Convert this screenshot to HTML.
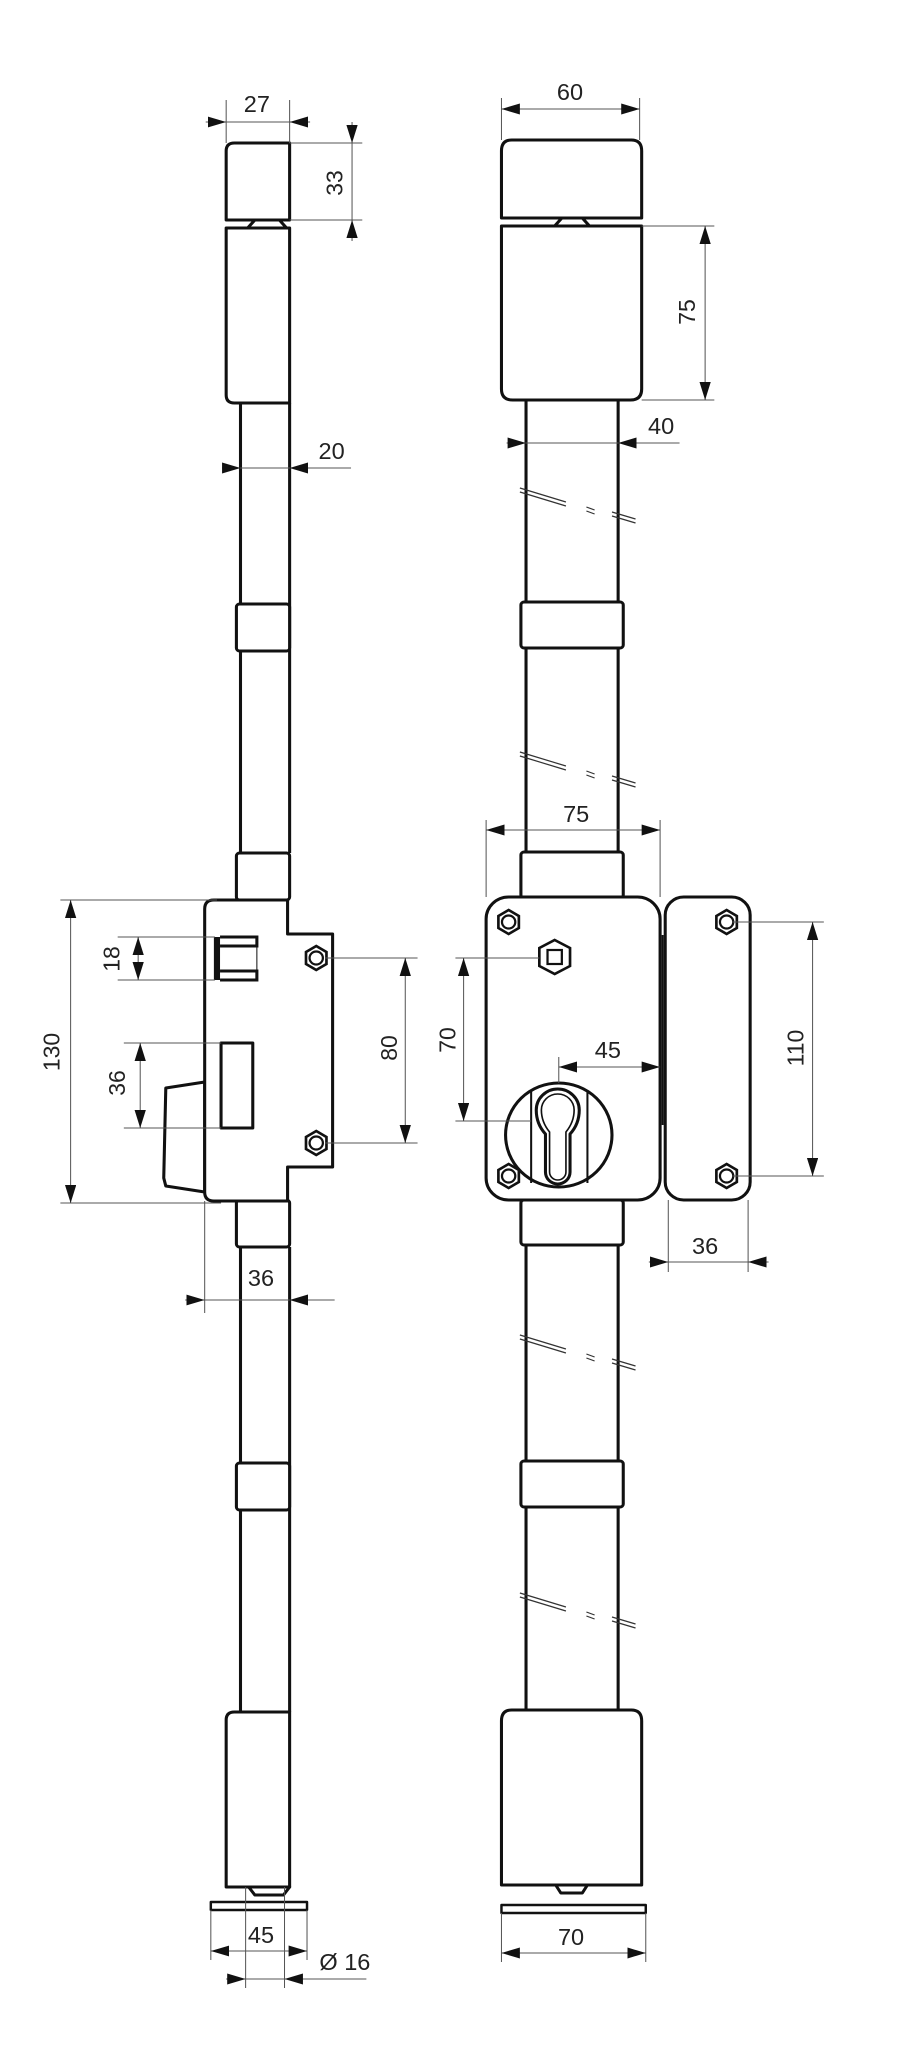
<!DOCTYPE html>
<html><head><meta charset="utf-8"><style>
html,body{margin:0;padding:0;background:#fff}
svg{display:block}
text{font-family:"Liberation Sans",sans-serif;font-size:23px;fill:#222}
.o{fill:#fff;stroke:#111;stroke-width:3;stroke-linejoin:round}
.l{fill:none;stroke:#111;stroke-width:3}
.d{fill:none;stroke:#555;stroke-width:1}
.b{fill:none;stroke:#333;stroke-width:1.2}
</style></head><body>
<svg width="917" height="2045" viewBox="0 0 917 2045" xmlns="http://www.w3.org/2000/svg">
<defs>
<marker id="a" markerUnits="userSpaceOnUse" markerWidth="20" markerHeight="12" refX="18" refY="5.5" orient="auto-start-reverse"><path d="M0,0 L18,5.5 L0,11 Z" fill="#111"/></marker>
<g id="scr"><polygon points="0,-12 10,-6 10,6 0,12 -10,6 -10,-6" fill="#fff" stroke="#111" stroke-width="2.6"/><circle r="6.5" fill="none" stroke="#111" stroke-width="2.2"/></g>
<g id="brk" class="b"><line x1="508" y1="0" x2="553" y2="14"/><line x1="508" y1="4" x2="553" y2="18"/><line x1="573" y1="19" x2="581" y2="22"/><line x1="573" y1="23" x2="581" y2="26"/><line x1="598" y1="24" x2="621" y2="31"/><line x1="598" y1="28" x2="621" y2="35"/></g>
</defs>
<g transform="scale(1.0234,1)">
<!-- LEFT VIEW -->
<line class="l" x1="235" y1="403" x2="235" y2="853"/><line class="l" x1="283" y1="403" x2="283" y2="853"/>
<line class="l" x1="235" y1="1247" x2="235" y2="1712"/><line class="l" x1="283" y1="1247" x2="283" y2="1712"/>
<path class="o" d="M229,143 H283 V220 H221 V151 Q221,143 229,143 Z"/>
<polygon class="o" points="249,220 273,220 280,228 242,228"/>
<path class="o" d="M221,228 H283 V403 H229 Q221,403 221,395 Z"/>
<rect class="o" x="231" y="604" width="52" height="47" rx="3"/>
<rect class="o" x="231" y="853" width="52" height="47" rx="3"/>
<rect class="o" x="231" y="1200" width="52" height="47" rx="3"/>
<rect class="o" x="231" y="1463" width="52" height="47" rx="3"/>
<polygon class="o" points="200,1082 162,1088 160,1178 162,1186 200,1192"/>
<path class="o" d="M209,900 H281 V934 H325 V1167 H281 V1201 H209 Q200,1201 200,1192 V909 Q200,900 209,900 Z"/>
<rect x="209" y="937" width="6" height="43" fill="#111"/>
<polyline class="l" points="215,937 251,937 251,946 215,946"/>
<polyline class="l" points="215,971 251,971 251,980 215,980"/>
<line class="l" x1="251" y1="946" x2="251" y2="971" style="stroke-width:1"/>
<rect class="o" x="216" y="1043" width="31" height="85"/>
<use href="#scr" x="309" y="958"/><use href="#scr" x="309" y="1143"/>
<path class="o" d="M229,1712 H283 V1887 H221 V1720 Q221,1712 229,1712 Z"/>
<polygon class="o" points="243,1887 283,1887 277,1895 249,1895"/>
<rect class="o" x="206" y="1902" width="94" height="8" style="stroke-width:2.4"/>

<!-- RIGHT VIEW -->
<line class="l" x1="514" y1="400" x2="514" y2="852"/><line class="l" x1="604" y1="400" x2="604" y2="852"/>
<line class="l" x1="514" y1="1245" x2="514" y2="1710"/><line class="l" x1="604" y1="1245" x2="604" y2="1710"/>
<path class="o" d="M500,140 H617 Q627,140 627,151 V218 H490 V151 Q490,140 500,140 Z"/>
<polygon class="o" points="549,218 569,218 576,226 542,226"/>
<path class="o" d="M490,226 H627 V389 Q627,400 616,400 H501 Q490,400 490,389 Z"/>
<rect class="o" x="509" y="602" width="100" height="46" rx="3"/>
<rect class="o" x="509" y="852" width="100" height="46" rx="3"/>
<rect class="o" x="509" y="1200" width="100" height="45" rx="3"/>
<rect class="o" x="509" y="1461" width="100" height="46" rx="3"/>
<use href="#brk" y="488"/><use href="#brk" y="752"/><use href="#brk" y="1335"/><use href="#brk" y="1593"/>
<rect class="o" x="475" y="897" width="170" height="303" rx="22"/>
<rect class="o" x="650" y="897" width="83" height="303" rx="18"/>
<line x1="647.5" y1="935" x2="647.5" y2="1125" stroke="#111" stroke-width="2"/>
<use href="#scr" x="497" y="922"/><use href="#scr" x="710" y="922"/>
<use href="#scr" x="497" y="1176"/><use href="#scr" x="710" y="1176"/>
<polygon points="542,940 557,948 557,966 542,974 527,966 527,948" fill="#fff" stroke="#111" stroke-width="2.6"/>
<rect x="535" y="950" width="14" height="14" fill="none" stroke="#111" stroke-width="2.2"/>
<circle cx="546" cy="1135" r="52" class="o"/>
<line class="l" x1="519" y1="1090" x2="519" y2="1183" style="stroke-width:2"/>
<line class="l" x1="574" y1="1090" x2="574" y2="1183" style="stroke-width:2"/>
<path class="o" d="M524,1110 A21,21 0 1 1 566,1110 Q566,1124 557,1134 V1172 A12,12 0 0 1 533,1172 V1134 Q524,1124 524,1110 Z"/>
<path class="l" style="stroke-width:1.6" d="M529,1110 A16,16 0 1 1 561,1110 Q561,1122 553,1132 V1172 A8,8 0 0 1 537,1172 V1132 Q529,1122 529,1110 Z"/>
<path class="o" d="M500,1710 H617 Q627,1710 627,1721 V1885 H490 V1721 Q490,1710 500,1710 Z"/>
<polygon class="o" points="543,1885 574,1885 569,1893 548,1893"/>
<rect class="o" x="490" y="1905" width="141" height="8" style="stroke-width:2.4"/>

<!-- DIMENSIONS LEFT -->
<g class="d">
<line x1="221" y1="100" x2="221" y2="143"/><line x1="283" y1="100" x2="283" y2="143"/>
<line x1="221" y1="122" x2="283" y2="122"/>
<line x1="201" y1="122" x2="221" y2="122" marker-end="url(#a)"/><line x1="303" y1="122" x2="283" y2="122" marker-end="url(#a)"/>
<line x1="283" y1="143" x2="354" y2="143"/><line x1="283" y1="220" x2="354" y2="220"/>
<line x1="344" y1="143" x2="344" y2="220"/>
<line x1="344" y1="122" x2="344" y2="143" marker-end="url(#a)"/><line x1="344" y1="241" x2="344" y2="220" marker-end="url(#a)"/>
<line x1="217" y1="468" x2="235" y2="468" marker-end="url(#a)"/><line x1="235" y1="468" x2="343" y2="468"/><line x1="303" y1="468" x2="283" y2="468" marker-end="url(#a)"/>
<line x1="115" y1="937" x2="210" y2="937"/><line x1="115" y1="980" x2="210" y2="980"/>
<line x1="135" y1="937" x2="135" y2="980" marker-start="url(#a)" marker-end="url(#a)"/>
<line x1="121" y1="1043" x2="216" y2="1043"/><line x1="121" y1="1128" x2="216" y2="1128"/>
<line x1="137" y1="1043" x2="137" y2="1128" marker-start="url(#a)" marker-end="url(#a)"/>
<line x1="59" y1="900" x2="212" y2="900"/><line x1="59" y1="1203" x2="216" y2="1203"/>
<line x1="69" y1="900" x2="69" y2="1203" marker-start="url(#a)" marker-end="url(#a)"/>
<line x1="318" y1="958" x2="408" y2="958"/><line x1="318" y1="1143" x2="408" y2="1143"/>
<line x1="396" y1="958" x2="396" y2="1143" marker-start="url(#a)" marker-end="url(#a)"/>
<line x1="200" y1="1201" x2="200" y2="1313"/>
<line x1="181" y1="1300" x2="200" y2="1300" marker-end="url(#a)"/><line x1="200" y1="1300" x2="327" y2="1300"/><line x1="300" y1="1300" x2="283" y2="1300" marker-end="url(#a)"/>
<line x1="206" y1="1910" x2="206" y2="1960"/><line x1="300" y1="1910" x2="300" y2="1960"/>
<line x1="206" y1="1951" x2="300" y2="1951" marker-start="url(#a)" marker-end="url(#a)"/>
<line x1="240" y1="1887" x2="240" y2="1988"/><line x1="278" y1="1887" x2="278" y2="1988"/>
<line x1="221" y1="1979" x2="240" y2="1979" marker-end="url(#a)"/><line x1="240" y1="1979" x2="358" y2="1979"/><line x1="298" y1="1979" x2="278" y2="1979" marker-end="url(#a)"/>
</g>
<!-- DIMENSIONS RIGHT -->
<g class="d">
<line x1="490" y1="98" x2="490" y2="140"/><line x1="625" y1="98" x2="625" y2="140"/>
<line x1="490" y1="109" x2="625" y2="109" marker-start="url(#a)" marker-end="url(#a)"/>
<line x1="627" y1="226" x2="698" y2="226"/><line x1="627" y1="400" x2="698" y2="400"/>
<line x1="689" y1="226" x2="689" y2="400" marker-start="url(#a)" marker-end="url(#a)"/>
<line x1="495" y1="443" x2="514" y2="443" marker-end="url(#a)"/><line x1="514" y1="443" x2="664" y2="443"/><line x1="624" y1="443" x2="604" y2="443" marker-end="url(#a)"/>
<line x1="475" y1="820" x2="475" y2="897"/><line x1="645" y1="820" x2="645" y2="897"/>
<line x1="475" y1="830" x2="645" y2="830" marker-start="url(#a)" marker-end="url(#a)"/>
<line x1="445" y1="958" x2="527" y2="958"/><line x1="445" y1="1121" x2="519" y2="1121"/>
<line x1="453" y1="958" x2="453" y2="1121" marker-start="url(#a)" marker-end="url(#a)"/>
<line x1="546" y1="1057" x2="546" y2="1083"/>
<line x1="546" y1="1067" x2="645" y2="1067" marker-start="url(#a)" marker-end="url(#a)"/>
<line x1="716" y1="922" x2="805" y2="922"/><line x1="716" y1="1176" x2="805" y2="1176"/>
<line x1="794" y1="922" x2="794" y2="1176" marker-start="url(#a)" marker-end="url(#a)"/>
<line x1="653" y1="1200" x2="653" y2="1272"/><line x1="731" y1="1200" x2="731" y2="1272"/>
<line x1="634" y1="1262" x2="653" y2="1262" marker-end="url(#a)"/><line x1="653" y1="1262" x2="731" y2="1262"/><line x1="751" y1="1262" x2="731" y2="1262" marker-end="url(#a)"/>
<line x1="490" y1="1913" x2="490" y2="1962"/><line x1="631" y1="1913" x2="631" y2="1962"/>
<line x1="490" y1="1953" x2="631" y2="1953" marker-start="url(#a)" marker-end="url(#a)"/>
</g>
<!-- LABELS -->
<g text-anchor="middle" dominant-baseline="central">
<text x="251" y="104">27</text>
<text x="557" y="92">60</text>
<text transform="translate(327,183) rotate(-90)">33</text>
<text transform="translate(671,312) rotate(-90)">75</text>
<text x="646" y="426">40</text>
<text x="324" y="451">20</text>
<text x="563" y="814">75</text>
<text transform="translate(109,959) rotate(-90)">18</text>
<text transform="translate(50,1052) rotate(-90)">130</text>
<text transform="translate(114,1083) rotate(-90)">36</text>
<text transform="translate(380,1048) rotate(-90)">80</text>
<text transform="translate(437,1040) rotate(-90)">70</text>
<text x="594" y="1050">45</text>
<text transform="translate(777,1048) rotate(-90)">110</text>
<text x="255" y="1278">36</text>
<text x="689" y="1246">36</text>
<text x="255" y="1935">45</text>
<text x="337" y="1962">Ø 16</text>
<text x="558" y="1937">70</text>
</g>
</g>
</svg>
</body></html>
